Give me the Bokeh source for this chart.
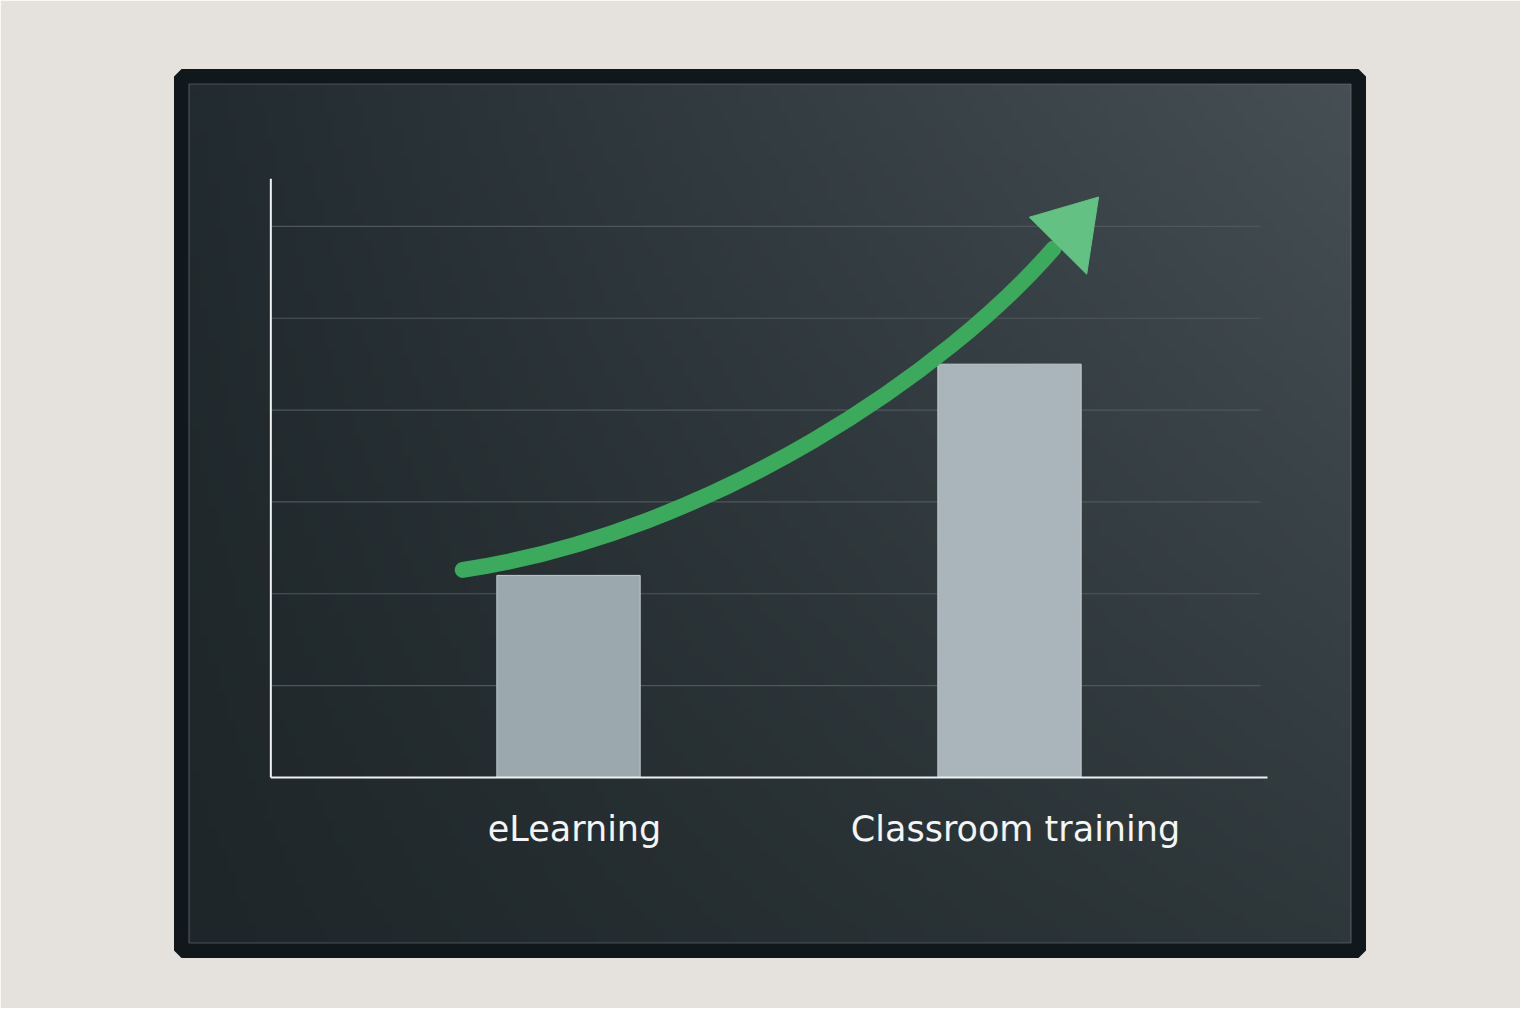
import numpy as np
from bokeh.plotting import figure
from bokeh.models import Range1d, ColumnDataSource, BoxAnnotation
from bokeh.core.properties import value
from bokeh.embed import file_html
from bokeh.resources import INLINE

# ---- data ----
categories = ["eLearning", "Classroom training"]
cat_pos = [1, 2]
bar_values = [22, 45]
grid_values = [10, 20, 30, 40, 50, 60]

# trend arrow (cubic curve: start, two control points, end) and head triangle
arrow_start = (0.76, 22.6)
arrow_ctrl1 = (1.33, 26.7)
arrow_ctrl2 = (1.86, 44.3)
arrow_end = (2.10, 57.6)
head_x = [2.045, 2.202, 2.175]
head_y = [61.0, 63.2, 54.8]

# axis extents
axis_x0, axis_x1 = 0.325, 2.585
grid_x1 = 2.569
axis_y1 = 65.2

# ---- figure ----
W, H = 1520, 1008
XR = (0.1224, 2.7914)
YR = (-18.84, 76.32)
p = figure(width=W, height=H, output_backend="svg", toolbar_location=None,
           x_range=Range1d(*XR), y_range=Range1d(*YR),
           min_border_left=181, min_border_right=162,
           min_border_top=76, min_border_bottom=58)
p.axis.visible = False
p.grid.visible = False
p.border_fill_color = "#e5e2dd"
p.background_fill_color = "#11181c"
p.outline_line_color = "#11181c"
p.outline_line_width = 15

# panel shading (decorative lighting of the board), inside the black frame
px_x = (XR[1] - XR[0]) / (W - 181 - 162)
px_y = (YR[1] - YR[0]) / (H - 76 - 58)
ix0, ix1 = XR[0] + 7.5 * px_x, XR[1] - 7.5 * px_x
iy0, iy1 = YR[0] + 7.5 * px_y, YR[1] - 7.5 * px_y
n = 120
u = np.linspace(0, 1, n)[None, :]
v = np.linspace(0, 1, n)[:, None]
corners = {"bl": (30, 38, 41), "br": (46, 55, 58), "tl": (34, 43, 47), "tr": (70, 79, 84)}
img = np.empty((n, n), dtype=np.uint32)
view = img.view(dtype=np.uint8).reshape((n, n, 4))
for k in range(3):
    c = (corners["bl"][k] * (1 - u) * (1 - v) + corners["br"][k] * u * (1 - v)
         + corners["tl"][k] * (1 - u) * v + corners["tr"][k] * u * v)
    view[:, :, k] = np.clip(c, 0, 255).astype(np.uint8)
view[:, :, 3] = 255
p.image_rgba(image=[img], x=ix0, y=iy0, dw=ix1 - ix0, dh=iy1 - iy0)
p.add_layout(BoxAnnotation(left=ix0, right=ix1, bottom=iy0, top=iy1,
                           fill_alpha=0, line_color="#6b777c", line_alpha=0.6,
                           line_width=1.2))

# gridlines
p.segment(x0=[axis_x0] * len(grid_values), x1=[grid_x1] * len(grid_values),
          y0=grid_values, y1=grid_values, line_color="#4e585c", line_width=1.2)

# bars
src = ColumnDataSource(dict(x=cat_pos, top=bar_values, cat=categories,
                            color=["#9ba8ae", "#a9b5ba"]))
p.vbar(x="x", top="top", bottom=0, width=0.325, source=src,
       fill_color="color", line_color="#c3ccd0", line_width=1)

# axes lines
p.segment(x0=[axis_x0, axis_x0], x1=[axis_x0, axis_x1], y0=[0, 0], y1=[axis_y1, 0],
          line_color="#eef1f2", line_width=2)

# trend arrow
p.bezier(x0=[arrow_start[0]], y0=[arrow_start[1]],
         x1=[arrow_end[0]], y1=[arrow_end[1]],
         cx0=[arrow_ctrl1[0]], cy0=[arrow_ctrl1[1]],
         cx1=[arrow_ctrl2[0]], cy1=[arrow_ctrl2[1]],
         line_color="#3caa5c", line_width=16, line_cap="round")
p.patch(x=head_x, y=head_y, fill_color="#63c184", line_color="#63c184", line_width=1)

# category labels
p.text(x="x", y=0, text="cat", source=src, x_offset=6, y_offset=52,
       text_font=value("DejaVu Sans"), text_font_size="35px", text_color="#f3f5f6",
       text_align="center", text_baseline="alphabetic")

open("out.html", "w").write(file_html(p, INLINE))
